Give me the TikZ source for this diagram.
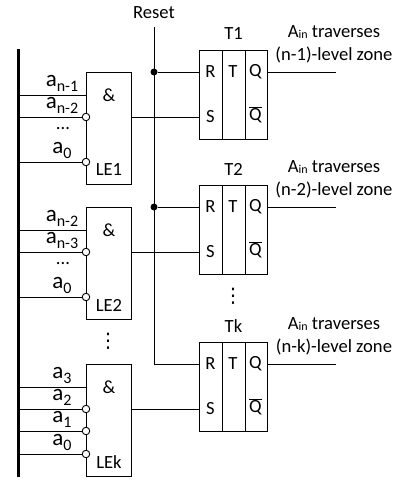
\documentclass[tikz,border=0pt]{standalone}
\usepackage{fontspec}
\setmainfont{Carlito}
\newfontfamily\symfont{DejaVu Sans}
\usetikzlibrary{calc}
\newcommand\asub[1]{{\fontsize{23}{23}\selectfont a}\raisebox{-5pt}{\fontsize{16}{16}\selectfont #1}}
\newcommand\Ain{A\raisebox{-1pt}{\fontsize{12}{12}\selectfont in}}
\newcommand\Qbar{$\overline{\mbox{Q}}$}
\begin{document}
\begin{tikzpicture}[x=1pt,y=-1pt,
  wire/.style={line width=1pt},
  gate/.style={draw, line width=1pt, minimum width=45pt, minimum height=112pt, inner sep=0, anchor=north west},
  ff/.style={draw, line width=1pt, minimum width=68pt, minimum height=89pt, inner sep=0, anchor=north west},
  lbl/.style={font=\fontsize{18.6}{23}\selectfont, inner sep=0},
  inlbl/.style={inner sep=0, anchor=base},
  vdts/.style={font=\symfont\fontsize{20}{20}\selectfont, inner sep=0},
  inv/.style={circle, draw, line width=0.9pt, fill=white, minimum size=7.5pt, inner sep=0},
  jdot/.style={circle, fill, minimum size=7pt, inner sep=0}]
\useasboundingbox (0,0) rectangle (397,482);

% bus
\coordinate (busT) at (18,49);
\coordinate (busB) at (18,477);
\draw[line width=3pt] (busT) -- (busB);

% gates and flip-flops
\node[gate] (LE1) at (86,72) {};
\node[gate] (LE2) at (86,207) {};
\node[gate] (LEk) at (86,364) {};
\node[ff] (T1) at (199,50) {};
\node[ff] (T2) at (199,185) {};
\node[ff] (Tk) at (199,342) {};

\foreach \g/\t/\lab/\z in {LE1/T1/1/{(n-1)}, LE2/T2/2/{(n-2)}, LEk/Tk/k/{(n-k)}}{
  \coordinate (\t-R) at ($(\t.north west)+(0,22)$);
  \coordinate (\t-S) at ($(\t.north west)+(0,67)$);
  \coordinate (\t-Q) at ($(\t.north east)+(0,22)$);
  \coordinate (\t-O) at ($(\t-Q)+(68,0)$);
  \coordinate (\g-out) at ($(\g.north east)+(0,45)$);
  \draw[wire] ($(\t.north west)!1/3!(\t.north east)$) -- ($(\t.south west)!1/3!(\t.south east)$);
  \draw[wire] ($(\t.north west)!2/3!(\t.north east)$) -- ($(\t.south west)!2/3!(\t.south east)$);
  \node[lbl] (\t-lR) at ($(\t-R)+(11.5,0)$) {R};
  \node[lbl] (\t-lT) at ($(\t-R)+(34,0)$) {T};
  \node[lbl] (\t-lQ) at ($(\t-R)+(56.5,0)$) {Q};
  \node[lbl] (\t-lS) at ($(\t-S)+(11.5,0)$) {S};
  \node[lbl] (\t-lQb) at ($(\t-S)+(56.5,-2)$) {\Qbar};
  \node[lbl] (\t-name) at ($(\t.north)+(0,-16)$) {T\lab};
  \node[lbl, align=center] (\t-txt) at ($(\t-O)+(-2,-27.5)$) {\Ain{} traverses\\\z-level zone};
  \draw[wire] (\t-Q) -- (\t-O);
  \draw[wire] (\g-out) -- (\t-S);
  \node[lbl] (\g-amp) at ($(\g.north)+(0,23)$) {\&};
  \node[lbl] (\g-name) at ($(\g.north)+(0,98)$) {LE\lab};
}

% Reset line
\coordinate (rst) at (154,27);
\node[lbl] (resetlbl) at (154,13) {Reset};
\draw[wire] (rst) |- (Tk-R);
\node[jdot] (j1) at (rst |- T1-R) {};
\node[jdot] (j2) at (rst |- T2-R) {};
\draw[wire] (j1) -- (T1-R);
\draw[wire] (j2) -- (T2-R);

% inputs
\foreach \g/\dy/\isinv/\txt in {LE1/23/0/{n-1}, LE1/45/1/{n-2}, LE1/90/1/{0},
                             LE2/23/0/{n-2}, LE2/45/1/{n-3}, LE2/90/1/{0},
                             LEk/23/0/{3}, LEk/45/1/{2}, LEk/67/1/{1}, LEk/90/1/{0}}{
  \coordinate (\g-in\dy) at ($(\g.north west)+(0,\dy)$);
  \coordinate (\g-bus\dy) at (busT |- \g-in\dy);
  \draw[wire] (\g-bus\dy) -- (\g-in\dy);
  \ifnum\isinv=1 \node[inv] (\g-c\dy) at (\g-in\dy) {}; \fi
  \node[inlbl] (\g-a\dy) at ($(\g-in\dy)+(-24,-8.5)$) {\asub{\txt}};
}
\node[lbl] (LE1-dots) at ($(LE1.north west)+(-23,57)$) {...};
\node[lbl] (LE2-dots) at ($(LE2.north west)+(-23,57)$) {...};

% vertical ellipses
\node[vdts] (vd1) at (108,341) {⋮};
\node[vdts] (vd2) at (233,296) {⋮};
\end{tikzpicture}
\end{document}
